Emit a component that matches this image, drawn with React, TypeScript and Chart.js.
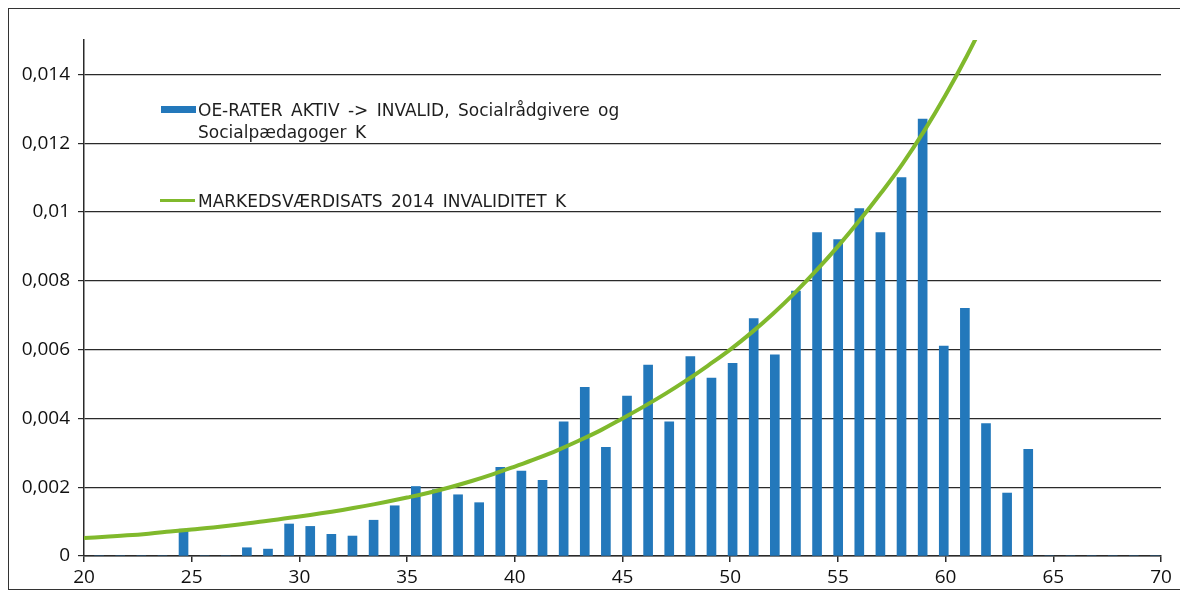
import React, { useEffect, useRef } from 'react';
import { Chart, registerables } from 'chart.js';

Chart.register(...registerables);

// Category slots for the bars (one per age, 20..70)
const barAges = [
  '20', '21', '22', '23', '24', '25', '26', '27', '28', '29',
  '30', '31', '32', '33', '34', '35', '36', '37', '38', '39',
  '40', '41', '42', '43', '44', '45', '46', '47', '48', '49',
  '50', '51', '52', '53', '54', '55', '56', '57', '58', '59',
  '60', '61', '62', '63', '64', '65', '66', '67', '68', '69', '70',
];

// OE-rater aktiv -> invalid (bars)
const barRates = [
  0, 0, 0, 0, 0.00078, 0, 0, 0.00024, 0.0002, 0.00093,
  0.00086, 0.00063, 0.00058, 0.00104, 0.00146, 0.00202, 0.00193, 0.00178, 0.00155, 0.00258,
  0.00247, 0.0022, 0.0039, 0.0049, 0.00316, 0.00465, 0.00555, 0.0039, 0.0058, 0.00517,
  0.0056, 0.0069, 0.00585, 0.0077, 0.0094, 0.0092, 0.0101, 0.0094, 0.011, 0.0127,
  0.0061, 0.0072, 0.00385, 0.00183, 0.0031, 0, 0, 0, 0, 0, 0,
];

// Markedsværdisats 2014 invaliditet (curve)
const curveAges = [
  20, 21, 22, 23, 24, 25, 26, 27, 28, 29,
  30, 31, 32, 33, 34, 35, 36, 37, 38, 39,
  40, 41, 42, 43, 44, 45, 46, 47, 48, 49,
  50, 51, 52, 53, 54, 55, 56, 57, 58, 59,
  60, 61, 62,
];
const curveRates = [
  0.00052, 0.00056, 0.0006, 0.00065, 0.00071, 0.00077, 0.00083, 0.0009, 0.00098, 0.00106,
  0.00115, 0.00124, 0.00134, 0.00145, 0.00157, 0.0017, 0.00184, 0.002, 0.00218, 0.00238,
  0.0026, 0.00283, 0.00308, 0.00336, 0.00366, 0.004, 0.00435, 0.00472, 0.00512, 0.00555,
  0.006, 0.0065, 0.00705, 0.00765, 0.0083, 0.009, 0.00975, 0.01055, 0.0114, 0.01235,
  0.0134, 0.01455, 0.0158,
];

const xMin = 20;
const xMax = 70;
const xStep = 5;
const yMin = 0;
const yMax = 0.015;
const yStep = 0.002;

const barLabelLines = ['OE-RATER AKTIV -> INVALID, Socialrådgivere og', 'Socialpædagoger K'];
const lineLabel = 'MARKEDSVÆRDISATS 2014 INVALIDITET K';

const BAR_COLOR = '#2378bb';
const LINE_COLOR = '#80b92c';
const AXIS_COLOR = '#2a2a2a';
const TICK_FONT = { family: '"Open Sans", "Liberation Sans", sans-serif', size: 19 };

export default function App() {
  const canvasRef = useRef<HTMLCanvasElement | null>(null);

  useEffect(() => {
    const canvas = canvasRef.current;
    if (!canvas) return;
    const chart = new Chart(canvas, {
      type: 'bar',
      data: {
        labels: barAges,
        datasets: [
          {
            type: 'line',
            label: lineLabel,
            data: curveAges.map((a, i) => ({ x: a, y: curveRates[i] })),
            xAxisID: 'x',
            yAxisID: 'y',
            borderColor: LINE_COLOR,
            backgroundColor: LINE_COLOR,
            borderWidth: 4,
            pointRadius: 0,
            tension: 0.4,
            order: 0,
          } as any,
          {
            type: 'bar',
            label: barLabelLines.join('\n'),
            data: barRates,
            xAxisID: 'xb',
            yAxisID: 'y',
            backgroundColor: BAR_COLOR,
            borderWidth: 0,
            barThickness: 9,
            order: 1,
          } as any,
        ],
      },
      options: {
        responsive: false,
        devicePixelRatio: 1,
        animation: false,
        layout: { padding: { top: 31, right: 19, left: 0, bottom: 0 } },
        plugins: {
          legend: { display: false },
          tooltip: { enabled: false },
        },
        scales: {
          x: {
            type: 'linear',
            position: 'bottom',
            min: xMin,
            max: xMax,
            offset: false,
            ticks: {
              stepSize: xStep,
              color: '#111',
              font: TICK_FONT,
              padding: 4,
              maxRotation: 0,
            },
            grid: {
              offset: false,
              drawOnChartArea: false,
              drawTicks: true,
              tickLength: 6,
              color: AXIS_COLOR,
              lineWidth: 1.5,
            },
            border: { display: true, color: AXIS_COLOR, width: 1.5 },
            afterFit: (scale: any) => {
              scale.height = 33;
            },
          },
          xb: {
            type: 'category',
            labels: barAges,
            offset: true,
            display: false,
            grid: { display: false },
          },
          y: {
            type: 'linear',
            min: yMin,
            max: yMax,
            ticks: {
              stepSize: yStep,
              color: '#111',
              font: TICK_FONT,
              padding: 8,
              callback: (v: any) => {
                const n = Number(v);
                if (n === 0) return '0';
                return String(parseFloat(n.toFixed(4))).replace('.', ',');
              },
            },
            afterBuildTicks: (scale: any) => {
              scale.ticks = scale.ticks.filter((t: any) => {
                const r = t.value / yStep;
                return Math.abs(r - Math.round(r)) < 1e-6;
              });
            },
            grid: {
              color: AXIS_COLOR,
              lineWidth: 1.2,
              drawTicks: true,
              tickLength: 6,
            },
            border: { display: true, color: AXIS_COLOR, width: 1.5 },
            afterFit: (scale: any) => {
              scale.width = 75;
            },
          },
        },
      } as any,
    });
    return () => chart.destroy();
  }, []);

  const legendText: React.CSSProperties = {
    position: 'absolute',
    fontFamily: '"DejaVu Sans", Verdana, sans-serif',
    fontSize: 17,
    lineHeight: '22px',
    color: '#1e1e1e',
    whiteSpace: 'pre-line',
    wordSpacing: 3,
  };

  return (
    <div
      style={{
        position: 'relative',
        width: 1172,
        height: 582,
        boxSizing: 'border-box',
        borderLeft: '1px solid #333',
        borderTop: '1px solid #333',
        borderBottom: '1px solid #333',
        background: '#fff',
      }}
    >
      <canvas ref={canvasRef} width={1171} height={580} style={{ display: 'block' }} />
      <div style={{ position: 'absolute', left: 152, top: 97, width: 35, height: 7, background: BAR_COLOR }} />
      <div style={{ ...legendText, left: 189, top: 90 }}>{barLabelLines.join('\n')}</div>
      <div style={{ position: 'absolute', left: 151, top: 190, width: 35, height: 3, background: LINE_COLOR }} />
      <div style={{ ...legendText, left: 189, top: 181 }}>{lineLabel}</div>
    </div>
  );
}
